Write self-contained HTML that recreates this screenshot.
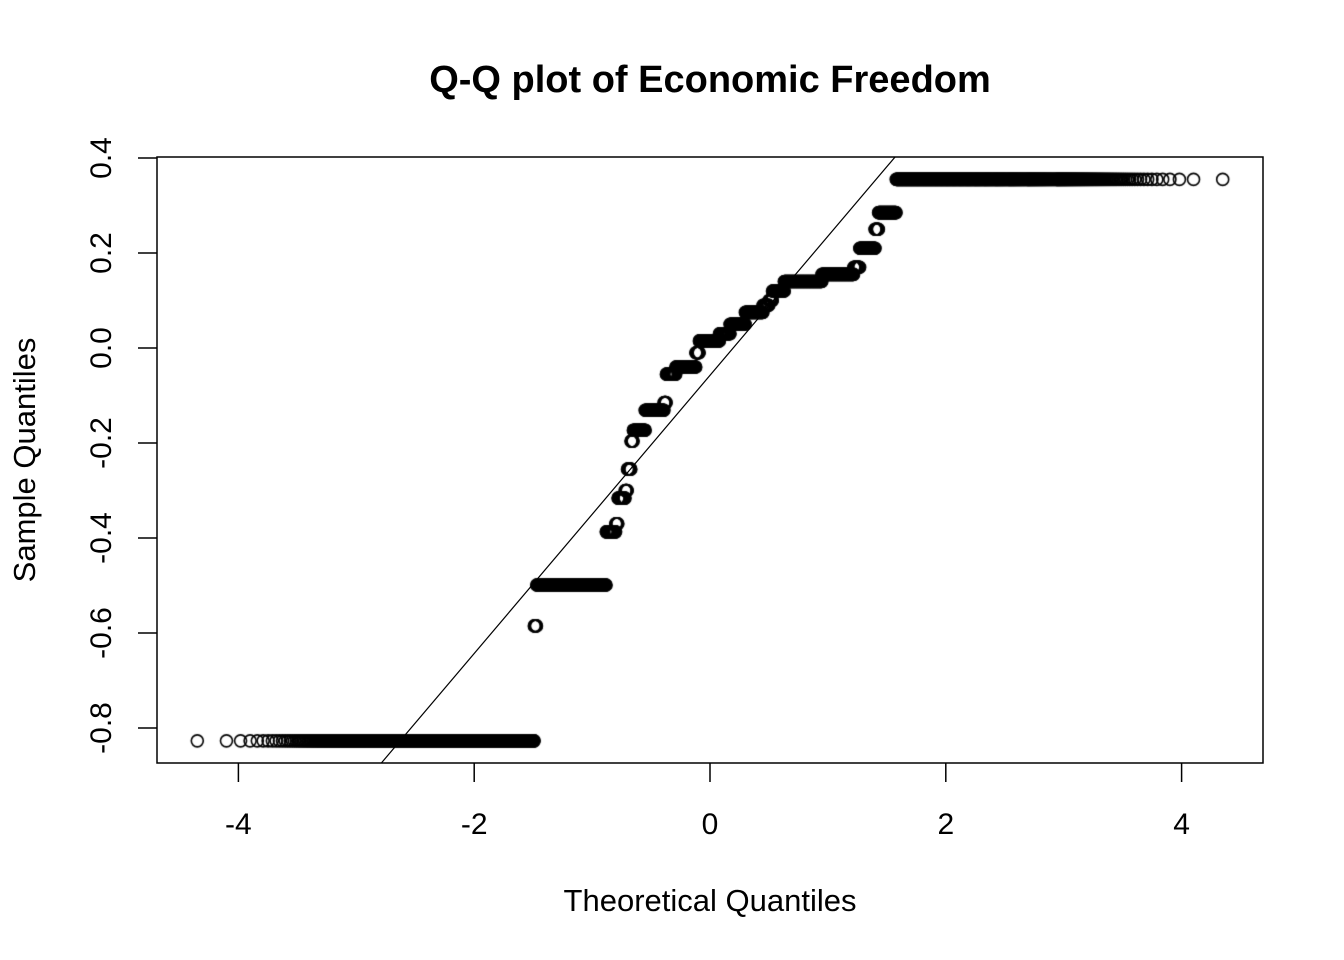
<!DOCTYPE html>
<html><head><meta charset="utf-8"><style>
html,body{margin:0;padding:0;background:#fff;overflow:hidden;width:1344px;height:960px;}
#wrap{position:relative;width:1344px;height:960px;overflow:hidden;}
svg,canvas{position:absolute;left:0;top:0;display:block;}
text{font-family:"Liberation Sans",Arial,sans-serif;fill:#000;}
</style></head><body>
<div id="wrap">
<canvas id="pts" width="1344" height="960"></canvas>
<svg id="chart" width="1344" height="960"></svg>
</div>
<script>
// Data: discrete sample levels and their counts (sorted ascending)
const levels = [-0.827,-0.585,-0.499,-0.387,-0.37,-0.316,-0.30,-0.255,-0.196,-0.173,-0.131,-0.115,-0.055,-0.04,-0.01,0.015,0.03,0.05,0.075,0.09,0.10,0.12,0.14,0.155,0.17,0.21,0.25,0.285,0.355];
const counts = [4971,197,8658,1643,423,1321,453,686,467,2438,4168,540,2205,4840,869,4949,2599,3679,4066,1307,759,2467,6804,4373,672,1548,321,1409,4168];
const xTicks = [-4,-2,0,2,4];
const yTicks = [0.4,0.2,0.0,-0.2,-0.4,-0.6,-0.8];
const yTickLabels = ["0.4","0.2","0.0","-0.2","-0.4","-0.6","-0.8"];

const L=157,R=1263,T=157,B=763;
const xs = v => 710 + v*117.9;
const ys = v => 348 - v*475;

function qnorm(p){
  const a=[-3.969683028665376e+01,2.209460984245205e+02,-2.759285104469687e+02,1.383577518672690e+02,-3.066479806614716e+01,2.506628277459239e+00];
  const b=[-5.447609879822406e+01,1.615858368580409e+02,-1.556989798598866e+02,6.680131188771972e+01,-1.328068155288572e+01];
  const c=[-7.784894002430293e-03,-3.223964580411365e-01,-2.400758277161838e+00,-2.549732539343734e+00,4.374664141464968e+00,2.938163982698783e+00];
  const d=[7.784695709041462e-03,3.224671290700398e-01,2.445134137142996e+00,3.754408661907416e+00];
  const pl=0.02425;let q,r;
  if(p<pl){q=Math.sqrt(-2*Math.log(p));return (((((c[0]*q+c[1])*q+c[2])*q+c[3])*q+c[4])*q+c[5])/((((d[0]*q+d[1])*q+d[2])*q+d[3])*q+1);}
  if(p>1-pl){q=Math.sqrt(-2*Math.log(1-p));return -(((((c[0]*q+c[1])*q+c[2])*q+c[3])*q+c[4])*q+c[5])/((((d[0]*q+d[1])*q+d[2])*q+d[3])*q+1);}
  q=p-0.5;r=q*q;return (((((a[0]*r+a[1])*r+a[2])*r+a[3])*r+a[4])*r+a[5])*q/(((((b[0]*r+b[1])*r+b[2])*r+b[3])*r+b[4])*r+1);
}
const n = counts.reduce((s,v)=>s+v,0);
function sampleAt(p){let k=Math.floor(p*n),acc=0;for(let i=0;i<levels.length;i++){acc+=counts[i];if(k<acc)return levels[i];}return levels[levels.length-1];}

const ctx=document.getElementById('pts').getContext('2d');
ctx.strokeStyle='#000';ctx.lineWidth=1.6;
let idx=0,lastX=-1e9,lastY=null;
for(let i=0;i<levels.length;i++){
  for(let j=0;j<counts[i];j++){
    const px=xs(qnorm((idx+0.5)/n)),py=ys(levels[i]);idx++;
    if(py===lastY && Math.abs(px-lastX)<0.3) continue;
    lastX=px;lastY=py;
    ctx.beginPath();ctx.arc(px,py,6,0,Math.PI*2);ctx.stroke();
  }
}

const NS='http://www.w3.org/2000/svg';
const svg=document.getElementById('chart');
function el(tag,attrs,txt){const e=document.createElementNS(NS,tag);for(const k in attrs)e.setAttribute(k,attrs[k]);if(txt!==undefined)e.textContent=txt;svg.appendChild(e);return e;}

const q1=sampleAt(0.25),q3=sampleAt(0.75);
const slope=(q3-q1)/(qnorm(0.75)-qnorm(0.25));
const inter=q1-slope*qnorm(0.25);
const cp=el('clipPath',{id:'clip'});
const cr=document.createElementNS(NS,'rect');cr.setAttribute('x',L);cr.setAttribute('y',T);cr.setAttribute('width',R-L);cr.setAttribute('height',B-T);cp.appendChild(cr);
const ql=el('line',{x1:xs(-6),y1:ys(inter-6*slope),x2:xs(6),y2:ys(inter+6*slope),stroke:'#000','stroke-width':1.2,'clip-path':'url(#clip)'});



const box=el('rect',{x:L,y:T,width:R-L,height:B-T,fill:'none',stroke:'#000','stroke-width':1.5});



xTicks.forEach(v=>{
  const t=el('line',{x1:xs(v),x2:xs(v),y1:B,y2:B+19,stroke:'#000','stroke-width':1.5});
  
  
  const lb=el('text',{x:xs(v),y:834,'font-size':30,'text-anchor':'middle'},String(v));
  
  
});
yTicks.forEach((v,i)=>{
  const t=el('line',{x1:L-19,x2:L,y1:ys(v),y2:ys(v),stroke:'#000','stroke-width':1.5});
  
  
  const lb=el('text',{x:0,y:0,'font-size':30,'text-anchor':'middle',transform:`translate(111,${ys(v)}) rotate(-90)`},yTickLabels[i]);
  
  
});
const title=el('text',{x:710,y:92,'font-size':38,'font-weight':'bold','text-anchor':'middle'},'Q-Q plot of Economic Freedom');


const xl=el('text',{x:710,y:911,'font-size':31,'text-anchor':'middle'},'Theoretical Quantiles');


const yl=el('text',{x:0,y:0,'font-size':31,'text-anchor':'middle',transform:'translate(35,460) rotate(-90)'},'Sample Quantiles');


</script>
</body></html>
